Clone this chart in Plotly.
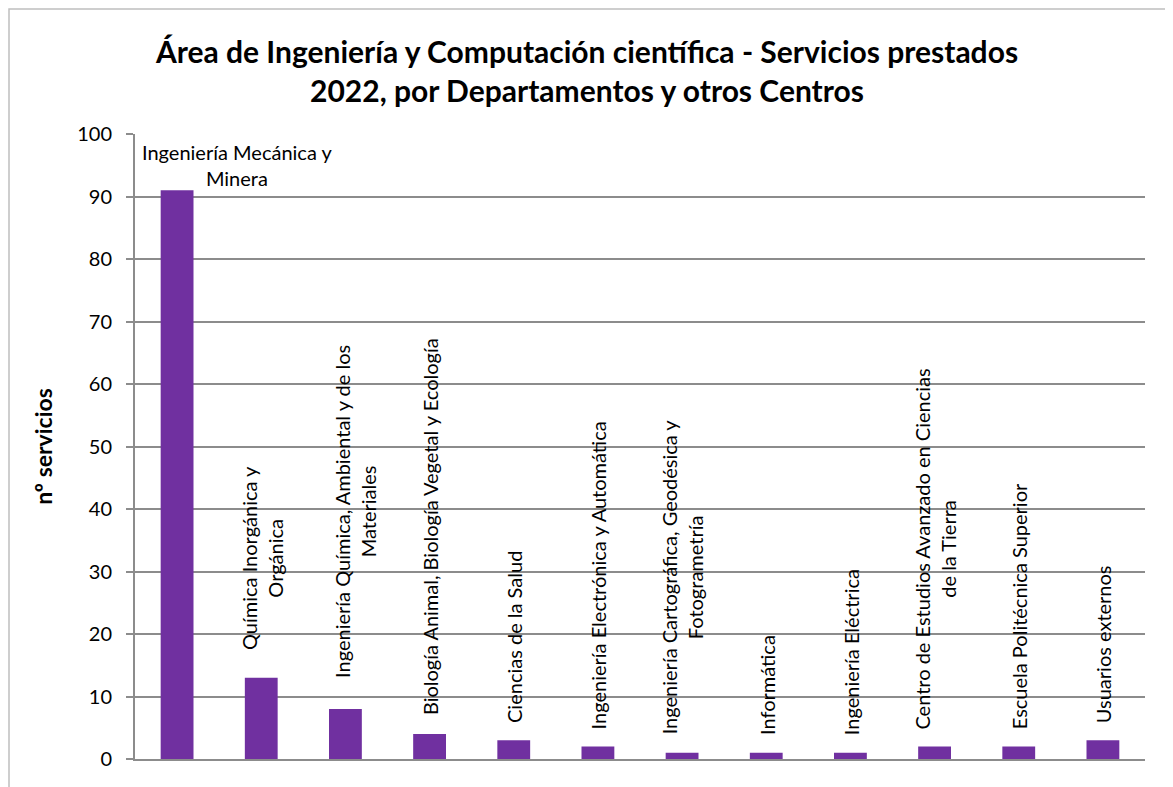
import plotly.graph_objects as go

categories = [
    "Ingeniería Mecánica y Minera",
    "Química Inorgánica y Orgánica",
    "Ingeniería Química, Ambiental y de los Materiales",
    "Biología Animal, Biología Vegetal y Ecología",
    "Ciencias de la Salud",
    "Ingeniería Electrónica y Automática",
    "Ingeniería Cartográfica, Geodésica y Fotogrametría",
    "Informática",
    "Ingeniería Eléctrica",
    "Centro de Estudios Avanzado en Ciencias de la Tierra",
    "Escuela Politécnica Superior",
    "Usuarios externos",
]
servicios = [91, 13, 8, 4, 3, 2, 1, 1, 1, 2, 2, 3]
label_texts = [
    "Ingeniería Mecánica y<br>Minera",
    "Química Inorgánica y<br>Orgánica",
    "Ingeniería Química, Ambiental y de los<br>Materiales",
    "Biología Animal, Biología Vegetal y Ecología",
    "Ciencias de la Salud",
    "Ingeniería Electrónica y Automática",
    "Ingeniería Cartográfica, Geodésica y<br>Fotogrametría",
    "Informática",
    "Ingeniería Eléctrica",
    "Centro de Estudios Avanzado en Ciencias<br>de la Tierra",
    "Escuela Politécnica Superior",
    "Usuarios externos",
]
y_ticks = [0, 10, 20, 30, 40, 50, 60, 70, 80, 90, 100]

# label placement styling (pixels)
label_angle = [0] + [-90] * 11
label_xshift = [60, 0, 9, 0, 0, 0, 0, 0, 0, 0, 0, 0]
label_yshift = [25, 26, 29, 17, 15, 15, 16, 16, 16, 15, 15, 15]

FONT = "Lato"
PURPLE = "#7030A0"
GRID = "#8C8C8C"

W, H = 1165, 779
ML, MR, MT, MB = 127, 28, 126, 28
PW, PH = W - ML - MR, H - MT - MB

fig = go.Figure()
fig.add_trace(go.Bar(
    x=categories, y=servicios,
    marker=dict(color=PURPLE, line=dict(width=0)),
    width=0.39,
    hoverinfo="x+y",
))

for i, (c, v, t) in enumerate(zip(categories, servicios, label_texts)):
    fig.add_annotation(
        x=c, y=v, text=t, showarrow=False,
        textangle=label_angle[i],
        xanchor="center",
        yanchor="middle" if label_angle[i] == 0 else "bottom",
        xshift=label_xshift[i], yshift=label_yshift[i],
        font=dict(family=FONT, size=20, color="#000000"),
        align="center",
    )

# outer chart border
fig.add_shape(type="rect", xref="paper", yref="paper",
              x0=(1 - ML) / PW, x1=(W - 1 - ML) / PW,
              y0=-0.2, y1=(MT + PH - 1) / PH,
              line=dict(color="#BFBFBF", width=1.5), fillcolor="rgba(0,0,0,0)",
              layer="below")

fig.update_layout(
    width=W, height=H,
    margin=dict(l=ML, r=MR, t=MT, b=MB),
    paper_bgcolor="white", plot_bgcolor="white",
    showlegend=False,
    title=dict(
        text="<b>Área de Ingeniería y Computación científica - Servicios prestados<br>2022, por Departamentos y otros Centros</b>",
        x=579 / W, xanchor="center",
        y=1 - 55 / H, yanchor="middle",
        font=dict(family=FONT, size=30, color="#000000"),
    ),
    font=dict(family=FONT, color="#000000"),
)
fig.update_xaxes(
    showticklabels=False, ticks="",
    showline=True, linecolor=GRID, linewidth=2,
    showgrid=False, range=[-0.5, 11.5],
)
fig.update_yaxes(
    range=[0, 100], tickvals=y_ticks,
    ticks="outside", ticklen=7, tickcolor=GRID, tickwidth=1.5,
    ticklabelstandoff=10,
    showline=True, linecolor=GRID, linewidth=2,
    showgrid=True, gridcolor=GRID, gridwidth=1.5,
    zeroline=False,
    tickfont=dict(family=FONT, size=20, color="#000000"),
    title=dict(text="<b>nº servicios</b>", standoff=18,
               font=dict(family=FONT, size=23, color="#000000")),
)

fig.write_html("out.html")
